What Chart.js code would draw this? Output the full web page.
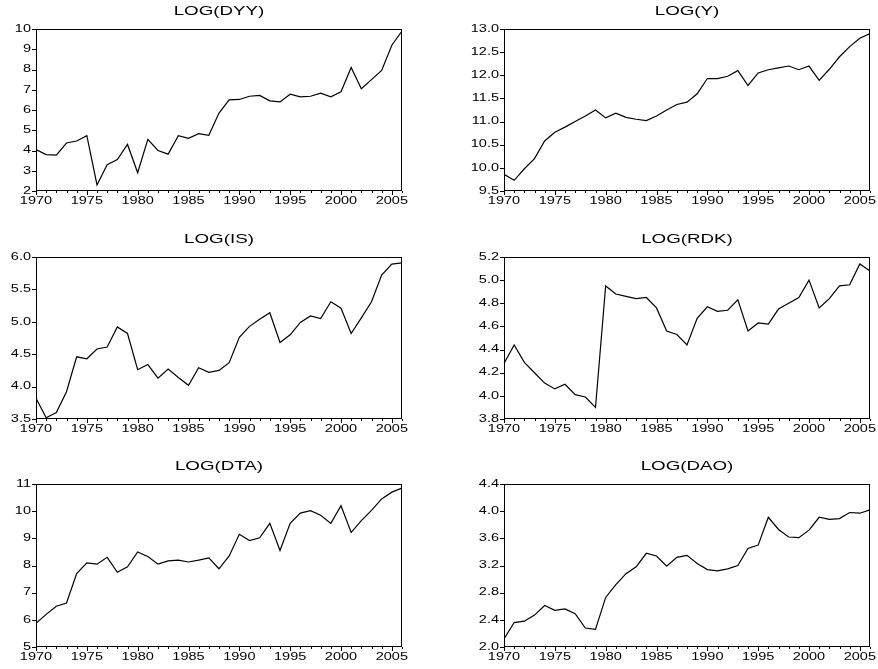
<!DOCTYPE html>
<html>
<head>
<meta charset="utf-8">
<script src="https://cdn.jsdelivr.net/npm/chart.js@4"></script>
<style>
    body { margin: 0; background: #fff; }
    #wrap { position: relative; width: 878px; height: 669px; overflow: hidden; }
    #wrap canvas { position: absolute; }
</style>
</head>
<body>
<div id="wrap"></div>
<script>
// years 1970-2006
const years = [];
for (let y = 1970; y <= 2006; y++) years.push(y);
const xTickLabels = [1970, 1975, 1980, 1985, 1990, 1995, 2000, 2005];

const logDYY = [4.05, 3.80, 3.77, 4.37, 4.47, 4.73, 2.30, 3.30, 3.55, 4.30,
    2.90, 4.55, 4.00, 3.82, 4.73, 4.60, 4.83, 4.75, 5.85, 6.50,
    6.52, 6.68, 6.72, 6.45, 6.40, 6.78, 6.65, 6.68, 6.83, 6.65,
    6.90, 8.10, 7.05, 7.50, 7.95, 9.20, 9.90];
const logY = [9.86, 9.73, 9.98, 10.20, 10.58, 10.77, 10.88, 11.00, 11.12, 11.25,
    11.08, 11.18, 11.09, 11.05, 11.02, 11.12, 11.25, 11.37, 11.42, 11.60,
    11.93, 11.93, 11.98, 12.10, 11.78, 12.05, 12.12, 12.16, 12.20, 12.12,
    12.20, 11.89, 12.13, 12.40, 12.62, 12.80, 12.90];
const logIS = [3.82, 3.52, 3.60, 3.92, 4.46, 4.43, 4.58, 4.61, 4.92, 4.82,
    4.26, 4.34, 4.13, 4.27, 4.14, 4.02, 4.29, 4.22, 4.25, 4.37,
    4.76, 4.93, 5.04, 5.14, 4.68, 4.80, 4.99, 5.09, 5.05, 5.31,
    5.21, 4.82, 5.06, 5.31, 5.72, 5.89, 5.91];
const logRDK = [4.28, 4.44, 4.29, 4.20, 4.11, 4.06, 4.10, 4.01, 3.99, 3.90,
    4.95, 4.88, 4.86, 4.84, 4.85, 4.76, 4.56, 4.53, 4.44, 4.67,
    4.77, 4.73, 4.74, 4.83, 4.56, 4.63, 4.62, 4.75, 4.80, 4.85,
    5.00, 4.76, 4.84, 4.95, 4.96, 5.14, 5.08];
const logDTA = [5.87, 6.20, 6.50, 6.62, 7.70, 8.10, 8.05, 8.30, 7.75, 7.95,
    8.50, 8.33, 8.05, 8.17, 8.20, 8.13, 8.20, 8.28, 7.88, 8.35,
    9.15, 8.92, 9.02, 9.55, 8.55, 9.55, 9.93, 10.02, 9.85, 9.55,
    10.20, 9.22, 9.65, 10.03, 10.45, 10.70, 10.85];
const logDAO = [2.12, 2.36, 2.38, 2.47, 2.61, 2.54, 2.56, 2.49, 2.28, 2.26,
    2.73, 2.92, 3.08, 3.18, 3.38, 3.34, 3.19, 3.32, 3.35, 3.23,
    3.14, 3.12, 3.15, 3.20, 3.45, 3.50, 3.91, 3.73, 3.62, 3.61,
    3.72, 3.91, 3.88, 3.89, 3.98, 3.97, 4.02];

const ticksDYY = ['2', '3', '4', '5', '6', '7', '8', '9', '10'];
const ticksY = ['9.5', '10.0', '10.5', '11.0', '11.5', '12.0', '12.5', '13.0'];
const ticksIS = ['3.5', '4.0', '4.5', '5.0', '5.5', '6.0'];
const ticksRDK = ['3.8', '4.0', '4.2', '4.4', '4.6', '4.8', '5.0', '5.2'];
const ticksDTA = ['5', '6', '7', '8', '9', '10', '11'];
const ticksDAO = ['2.0', '2.4', '2.8', '3.2', '3.6', '4.0', '4.4'];

const panels = [
    { title: 'LOG(DYY)', values: logDYY, ticks: ticksDYY, left: 0, top: 0, pad: { left: 36, right: 37, top: 29, bottom: 32 } },
    { title: 'LOG(Y)', values: logY, ticks: ticksY, left: 439, top: 0, pad: { left: 65, right: 8, top: 29, bottom: 32 } },
    { title: 'LOG(IS)', values: logIS, ticks: ticksIS, left: 0, top: 223, pad: { left: 36, right: 37, top: 34, bottom: 27 } },
    { title: 'LOG(RDK)', values: logRDK, ticks: ticksRDK, left: 439, top: 223, pad: { left: 65, right: 8, top: 34, bottom: 27 } },
    { title: 'LOG(DTA)', values: logDTA, ticks: ticksDTA, left: 0, top: 446, pad: { left: 36, right: 37, top: 38, bottom: 22 } },
    { title: 'LOG(DAO)', values: logDAO, ticks: ticksDAO, left: 439, top: 446, pad: { left: 65, right: 8, top: 38, bottom: 22 } }
];

// draw text squeezed like the eviews export (wide glyphs)
function wideText(ctx, text, x, y, sx, align) {
    ctx.save();
    ctx.translate(x, y);
    ctx.scale(sx, 1);
    ctx.textAlign = align;
    ctx.fillText(text, 0, 0);
    ctx.restore();
}

const frameAxes = {
    id: 'frameAxes',
    afterDatasetsDraw(chart, args, opts) {
        const ctx = chart.ctx;
        const a = chart.chartArea;
        const xs = chart.scales.x;
        const ys = chart.scales.y;
        ctx.save();
        ctx.strokeStyle = '#000';
        ctx.fillStyle = '#000';
        ctx.lineWidth = 1;
        ctx.strokeRect(Math.round(a.left) + 0.5, Math.round(a.top) + 0.5,
            Math.round(a.right - a.left) - 1, Math.round(a.bottom - a.top) - 1);

        // x ticks: every year, longer on labelled years
        const bottom = Math.round(a.bottom);
        ctx.beginPath();
        years.forEach(yr => {
            const px = Math.round(xs.getPixelForValue(yr)) + 0.5;
            const len = xTickLabels.includes(yr) ? 4 : 2;
            ctx.moveTo(px, bottom);
            ctx.lineTo(px, bottom + len);
        });
        // y ticks
        opts.ticks.forEach(t => {
            const py = Math.round(ys.getPixelForValue(parseFloat(t))) + 0.5;
            ctx.moveTo(Math.round(a.left), py);
            ctx.lineTo(Math.round(a.left) - 4, py);
        });
        ctx.stroke();

        ctx.font = '10px "Liberation Sans", Arial, sans-serif';
        ctx.textBaseline = 'middle';
        opts.ticks.forEach(t => {
            wideText(ctx, t, a.left - 5, ys.getPixelForValue(parseFloat(t)), 1.45, 'right');
        });
        ctx.textBaseline = 'top';
        xTickLabels.forEach(yr => {
            wideText(ctx, String(yr), xs.getPixelForValue(yr), bottom + 5, 1.45, 'center');
        });

        ctx.font = '12.5px "Liberation Sans", Arial, sans-serif';
        ctx.textBaseline = 'middle';
        wideText(ctx, opts.title, (a.left + a.right) / 2, a.top - 17, 1.5, 'center');
        ctx.restore();
    }
};

const wrap = document.getElementById('wrap');
panels.forEach(p => {
    const cv = document.createElement('canvas');
    cv.width = 439;
    cv.height = 223;
    cv.style.left = p.left + 'px';
    cv.style.top = p.top + 'px';
    wrap.appendChild(cv);

    new Chart(cv.getContext('2d'), {
        type: 'line',
        data: {
            datasets: [{
                data: years.map((yr, i) => ({ x: yr, y: p.values[i] })),
                borderColor: '#000',
                borderWidth: 1.2,
                pointRadius: 0,
                tension: 0,
                fill: false
            }]
        },
        options: {
            responsive: false,
            animation: false,
            devicePixelRatio: 1,
            layout: { padding: p.pad },
            plugins: {
                legend: { display: false },
                tooltip: { enabled: false },
                frameAxes: { title: p.title, ticks: p.ticks }
            },
            scales: {
                x: { type: 'linear', display: false, min: 1970, max: 2006 },
                y: {
                    type: 'linear', display: false,
                    min: parseFloat(p.ticks[0]),
                    max: parseFloat(p.ticks[p.ticks.length - 1])
                }
            }
        },
        plugins: [frameAxes]
    });
});
</script>
</body>
</html>
